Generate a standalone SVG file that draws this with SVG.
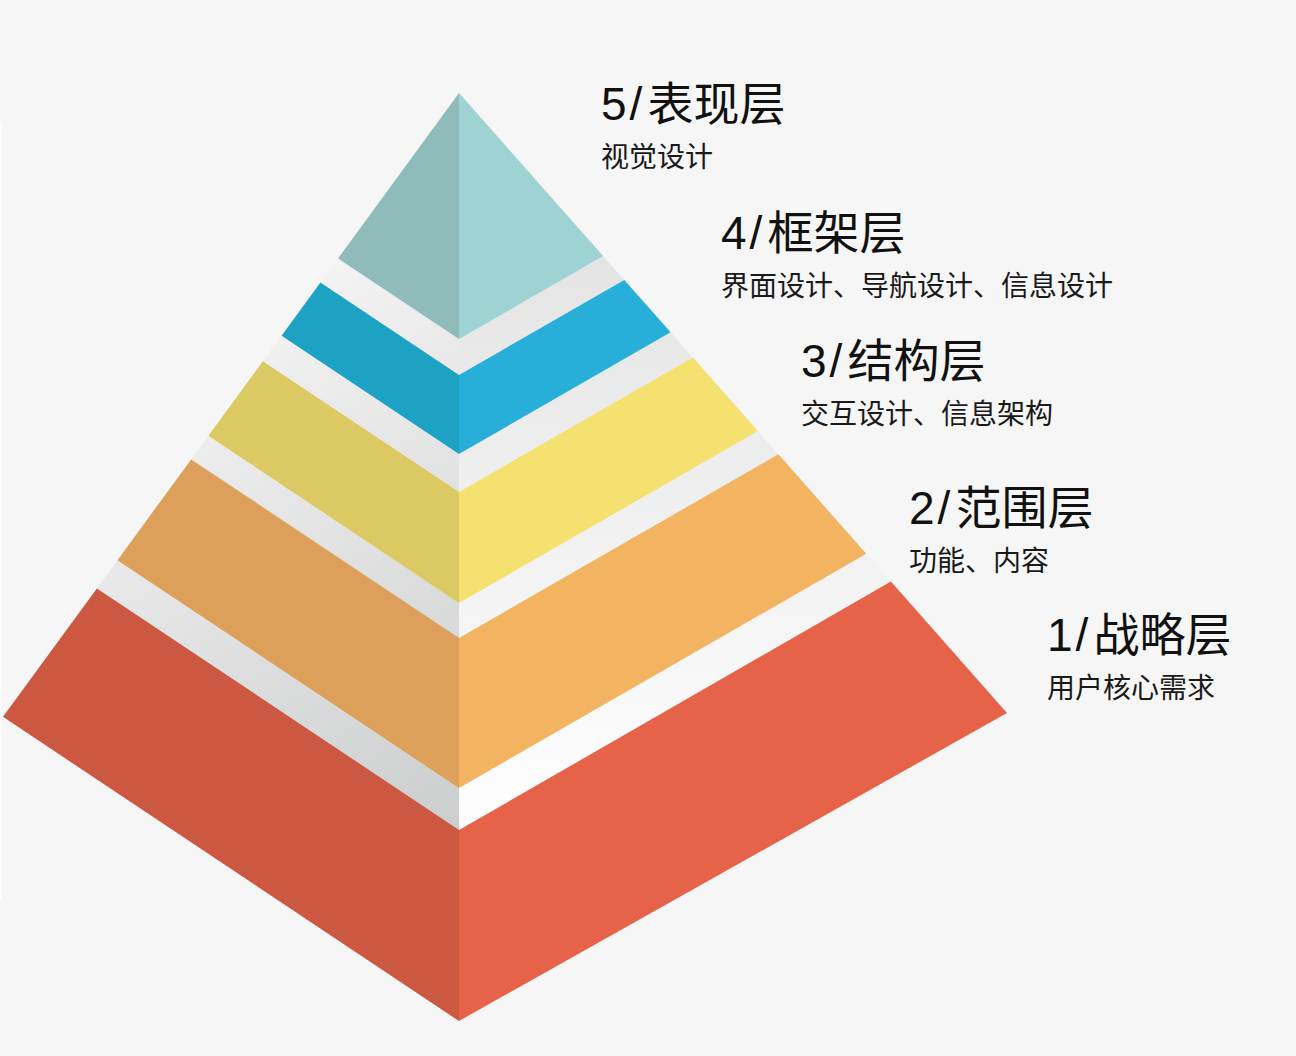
<svg xmlns="http://www.w3.org/2000/svg" width="1296" height="1056" viewBox="0 0 1296 1056">
  <defs>
    <linearGradient id="coreL" gradientUnits="userSpaceOnUse" x1="150" y1="350" x2="459" y2="880">
      <stop offset="0" stop-color="#f4f4f4"/>
      <stop offset="1" stop-color="#c9caca"/>
    </linearGradient>
    <linearGradient id="coreR" gradientUnits="userSpaceOnUse" x1="0" y1="250" x2="0" y2="800">
      <stop offset="0" stop-color="#e4e4e4"/>
      <stop offset="1" stop-color="#fdfdfd"/>
    </linearGradient>
    <style>
      .h { font-family: "Liberation Sans", "Noto Sans CJK SC", sans-serif; font-size: 46px; fill: #111111; }
      .n { letter-spacing: 3px; }
      .s { font-family: "Noto Sans CJK SC", "Liberation Sans", sans-serif; font-size: 28px; fill: #1a1a1a; }
      .t5l { fill: #8fbbba; } .t5r { fill: #9fd3d3; }
      .t4l { fill: #1ea2c3; } .t4r { fill: #27afda; }
      .t3l { fill: #dbc963; } .t3r { fill: #f5e170; }
      .t2l { fill: #dca05a; } .t2r { fill: #f3b462; }
      .t1l { fill: #cc5842; } .t1r { fill: #e6634a; }
    </style>
  </defs>
  <rect x="0" y="0" width="1296" height="1056" fill="#f6f6f6"/>
  <rect x="0" y="122" width="2" height="778" fill="#fcfcfc"/>

  <g id="core">
    <polygon points="459,93 3,716.8 459,1021" fill="url(#coreL)"/>
    <polygon points="459,93 1007,713 459,1021" fill="url(#coreR)"/>
  </g>

  <g id="layer5">
    <polygon class="t5l" points="459,93 338.1,258.4 459,339"/>
    <polygon class="t5r" points="459,93 603.2,256.1 459,339"/>
  </g>
  <g id="layer4">
    <polygon class="t4l" points="459,375 320.4,282.6 281.6,335.7 459,454"/>
    <polygon class="t4r" points="459,375 624.3,280 670.6,332.3 459,454"/>
  </g>
  <g id="layer3">
    <polygon class="t3l" points="459,492 262.9,361.2 208.4,435.8 459,603"/>
    <polygon class="t3r" points="459,492 692.9,357.5 757.9,431.1 459,603"/>
  </g>
  <g id="layer2">
    <polygon class="t2l" points="459,638 191.2,459.4 117.5,560.2 459,788"/>
    <polygon class="t2r" points="459,638 778.4,454.3 866.3,553.8 459,788"/>
  </g>
  <g id="layer1">
    <polygon class="t1l" points="459,830 96.9,588.5 3,716.8 459,1021"/>
    <polygon class="t1r" points="459,830 890.9,581.6 1007,713 459,1021"/>
  </g>

  <g id="label5">
    <text class="h" x="601" y="120"><tspan class="n">5/</tspan><tspan dx="2">表现层</tspan></text>
    <text class="s" x="601" y="167">视觉设计</text>
  </g>
  <g id="label4">
    <text class="h" x="721" y="249"><tspan class="n">4/</tspan><tspan dx="2">框架层</tspan></text>
    <text class="s" x="721" y="296">界面设计、导航设计、信息设计</text>
  </g>
  <g id="label3">
    <text class="h" x="801" y="377"><tspan class="n">3/</tspan><tspan dx="2">结构层</tspan></text>
    <text class="s" x="801" y="424">交互设计、信息架构</text>
  </g>
  <g id="label2">
    <text class="h" x="909" y="524"><tspan class="n">2/</tspan><tspan dx="2">范围层</tspan></text>
    <text class="s" x="909" y="571">功能、内容</text>
  </g>
  <g id="label1">
    <text class="h" x="1047" y="651"><tspan class="n">1/</tspan><tspan dx="2">战略层</tspan></text>
    <text class="s" x="1047" y="698">用户核心需求</text>
  </g>
</svg>
